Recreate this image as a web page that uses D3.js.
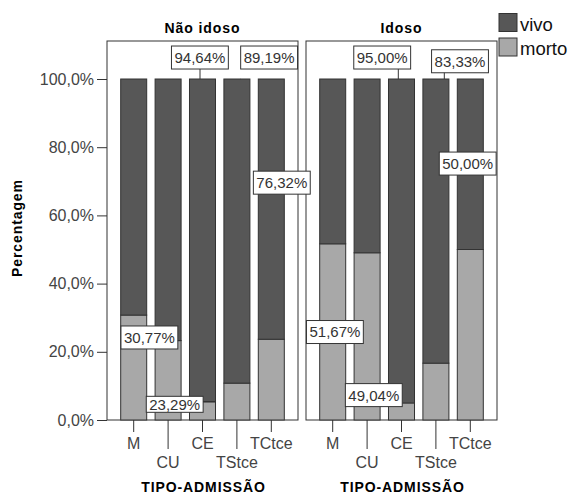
<!DOCTYPE html>
<html>
<head>
<meta charset="utf-8">
<script src="https://cdn.jsdelivr.net/npm/d3@7"></script>
<style>
  body { margin: 0; background: #fff; }
  text { font-family: "Liberation Sans", Arial, sans-serif; }
</style>
</head>
<body>
<div id="chart"></div>
<script>
var categories = ["M", "CU", "CE", "TStce", "TCtce"];
var panels = ["Não idoso", "Idoso"];
var series = ["vivo", "morto"];
// percentagem de "morto" por tipo de admissão
var mortoNaoIdoso = [30.77, 23.29, 5.36, 10.81, 23.68];
var mortoIdoso = [51.67, 49.04, 5.00, 16.67, 50.00];
var yTicks = [0, 20, 40, 60, 80, 100];

// rótulos visíveis: painel, barra, valor mostrado
var labelPanel = [0, 0, 0, 0, 0, 1, 1, 1, 1, 1];
var labelCat = ["CE", "TStce", "TCtce", "CU", "CE", "CE", "TStce", "TCtce", "M", "CU"];
var labelValue = [94.64, 89.19, 76.32, 30.77, 23.29, 95.00, 83.33, 50.00, 51.67, 49.04];

// onde o SPSS colocou as caixas (deslocamento da barra, nível em %) e a linha guia
var labelLayout = [
  {dx: -2.6, v: 106.3, lead: [-2.5, 100]},
  {dx: 32.2, v: 106.3, lead: [3.5, 100]},
  {dx: 10.5, v: 69.6, lead: null},
  {dx: -18.7, v: 24.2, lead: [13, 23.29]},
  {dx: -27.8, v: 4.6, lead: [13, 5.36], h: 16},
  {dx: -19.3, v: 106.3, lead: [-3.2, 100]},
  {dx: 24.1, v: 105.2, lead: [8.4, 100]},
  {dx: -2.6, v: 75.2, lead: null},
  {dx: 2.2, v: 25.8, lead: null},
  {dx: 6.7, v: 7.3, lead: null}
];

var width = 571, height = 496;
var colors = {vivo: "#575757", morto: "#a8a8a8"};
var panelLeft = [107, 306], panelW = 191, plotTop = 41, plotBottom = 420;

var svg = d3.select("#chart").append("svg")
  .attr("width", width)
  .attr("height", height);

var y = d3.scaleLinear().domain([0, 100]).range([plotBottom, 79]);
var x = d3.scaleBand().domain(categories).range([0, panelW])
  .paddingInner(0.244).paddingOuter(0.398);

var pct = function(d) { return d.toFixed(1).replace(".", ",") + "%"; };
var pct2 = function(d) { return d.toFixed(2).replace(".", ",") + "%"; };

var mortoByPanel = [mortoNaoIdoso, mortoIdoso];

panels.forEach(function(name, p) {
  var g = svg.append("g").attr("transform", "translate(" + panelLeft[p] + ",0)");

  g.append("rect")
    .attr("x", 0).attr("y", plotTop)
    .attr("width", panelW).attr("height", plotBottom - plotTop)
    .attr("fill", "#fff").attr("stroke", "#333").attr("stroke-width", 1);

  g.append("text")
    .attr("x", panelW / 2).attr("y", 33)
    .attr("text-anchor", "middle")
    .style("font-size", "14px").style("font-weight", "bold").style("letter-spacing", "0.9px")
    .text(name);

  var rows = categories.map(function(c, i) {
    return {cat: c, morto: mortoByPanel[p][i], vivo: 100 - mortoByPanel[p][i]};
  });
  var stacked = d3.stack().keys(["morto", "vivo"])(rows);

  g.selectAll("g.layer")
    .data(stacked)
    .enter().append("g")
    .attr("class", "layer")
    .attr("fill", function(d) { return colors[d.key]; })
    .selectAll("rect")
    .data(function(d) { return d; })
    .enter().append("rect")
    .attr("x", function(d) { return x(d.data.cat); })
    .attr("y", function(d) { return y(d[1]); })
    .attr("width", x.bandwidth())
    .attr("height", function(d) { return y(d[0]) - y(d[1]); })
    .attr("stroke", "#333").attr("stroke-width", 1);

  var xAxis = g.append("g")
    .attr("transform", "translate(0," + plotBottom + ")")
    .call(d3.axisBottom(x).tickSize(12).tickPadding(4));
  xAxis.select(".domain").remove();
  xAxis.selectAll(".tick line")
    .attr("stroke", "#333")
    .attr("y2", function(d, i) { return i % 2 ? 29 : 12; });
  xAxis.selectAll(".tick text")
    .attr("fill", "#444")
    .style("font-size", "16px")
    .attr("dy", null)
    .attr("y", function(d, i) { return i % 2 ? 48 : 29; });

  g.append("text")
    .attr("x", panelW / 2 + 1).attr("y", 492)
    .attr("text-anchor", "middle")
    .style("font-size", "14px").style("font-weight", "bold").style("letter-spacing", "0.9px")
    .text("TIPO-ADMISSÃO");
});

var yAxis = svg.append("g")
  .attr("transform", "translate(" + panelLeft[0] + ",0)")
  .call(d3.axisLeft(y).tickValues(yTicks).tickFormat(pct).tickSize(10).tickPadding(3));
yAxis.select(".domain").remove();
yAxis.selectAll(".tick line").attr("stroke", "#333");
yAxis.selectAll(".tick text").attr("fill", "#444").style("font-size", "16px");

svg.append("text")
  .attr("transform", "translate(22,228) rotate(-90)")
  .attr("text-anchor", "middle")
  .style("font-size", "14px").style("font-weight", "bold").style("letter-spacing", "0.9px")
  .text("Percentagem");

// rótulos com caixa
labelValue.forEach(function(v, i) {
  var lay = labelLayout[i];
  var ox = panelLeft[labelPanel[i]] + x(labelCat[i]) + x.bandwidth() / 2;
  var cx = ox + lay.dx, cy = y(lay.v);
  var g = svg.append("g");
  var t = g.append("text")
    .attr("x", cx).attr("y", cy).attr("dy", "0.36em")
    .attr("text-anchor", "middle")
    .attr("fill", "#333")
    .style("font-size", "15px")
    .text(pct2(v));
  var w = t.node().getComputedTextLength() + 6, h = lay.h || 23;
  var x0 = cx - w / 2, x1 = cx + w / 2, y0 = cy - h / 2, y1 = cy + h / 2;
  g.insert("rect", "text")
    .attr("x", x0).attr("y", y0).attr("width", w).attr("height", h)
    .attr("fill", "#fff").attr("stroke", "#333").attr("stroke-width", 1);
  if (lay.lead) {
    var ax = ox + lay.lead[0], ay = y(lay.lead[1]);
    var sx, sy;
    if (ax >= x0 && ax <= x1) { sx = ax; sy = ay > y1 ? y1 : y0; }
    else { sy = ay; sx = ax > x1 ? x1 : x0; }
    g.append("line")
      .attr("x1", sx).attr("y1", sy).attr("x2", ax).attr("y2", ay)
      .attr("stroke", "#333").attr("stroke-width", 1);
  }
});

// legenda
var legend = svg.selectAll("g.legend")
  .data(series)
  .enter().append("g")
  .attr("class", "legend")
  .attr("transform", function(d, i) { return "translate(499," + (13.5 + i * 24.5) + ")"; });
legend.append("rect")
  .attr("width", 18).attr("height", 18)
  .attr("fill", function(d) { return colors[d]; })
  .attr("stroke", "#333").attr("stroke-width", 1);
legend.append("text")
  .attr("x", 21).attr("y", 17)
  .attr("fill", "#111")
  .style("font-size", "18.5px")
  .text(function(d) { return d; });
</script>
</body>
</html>
